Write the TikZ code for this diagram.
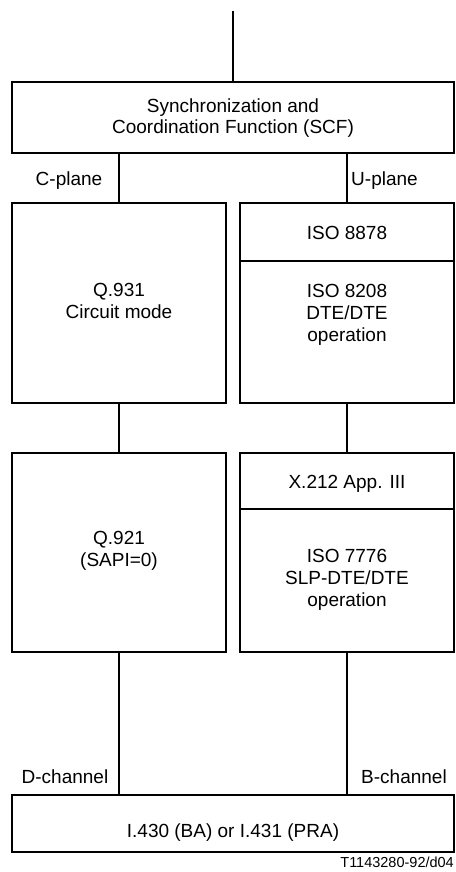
\documentclass[tikz,border=0pt]{standalone}
\usepackage{fontspec}
\setmainfont{Liberation Sans}
\begin{document}
\begin{tikzpicture}[x=1pt,y=-1pt,
  box/.style={draw,line width=1.1pt,inner sep=0pt,minimum width=#1},
  box/.default=214pt,
  txt/.style={align=center,font=\fontsize{19}{21.7}\selectfont,inner sep=0pt},
  lbl/.style={font=\fontsize{19}{21.7}\selectfont,inner sep=0pt,anchor=base},
  link/.style={line width=1.8pt}]
\useasboundingbox (0,0) rectangle (455,872);

% protocol boxes
\node[box=442pt,minimum height=71pt] (scf) at (233,117.5) {};
\node[box,minimum height=200pt] (q931) at (119,303) {};
\node[box,minimum height=58pt] (iso8878) at (347,232) {};
\node[box,minimum height=142pt] (iso8208) at (347,332) {};
\node[box,minimum height=199pt] (q921) at (119,552.5) {};
\node[box,minimum height=56pt] (x212) at (347,481) {};
\node[box,minimum height=143pt] (iso7776) at (347,580.5) {};
\node[box=442pt,minimum height=57pt] (phys) at (233,823.5) {};

% box texts
\node[txt] (t-scf) at (233,118) {Synchronization and\\Coordination Function (SCF)};
\node[txt] (t-q931) at (119,301) {Q.931\\Circuit mode};
\node[lbl] (t-iso8878) at (347,239.3) {ISO 8878};
\node[txt] (t-iso8208) at (347,315) {ISO 8208\\DTE/DTE\\operation};
\node[txt] (t-q921) at (119,551) {Q.921\\(SAPI=0)};
\node[lbl] (t-x212) at (347,488.3) {X.212 App. III};
\node[txt] (t-iso7776) at (347,580) {ISO 7776\\SLP-DTE/DTE\\operation};
\node[lbl] (t-phys) at (233,837) {I.430 (BA) or I.431 (PRA)};

% plane and channel labels
\node[lbl] (cplane) at (69,185) {C-plane};
\node[lbl] (uplane) at (384.5,185) {U-plane};
\node[lbl] (dchan) at (65,783) {D-channel};
\node[lbl] (bchan) at (404,783) {B-channel};
\node[anchor=base east,inner sep=0pt,font=\fontsize{14.5}{17}\selectfont] (ref) at (454,867.5) {T1143280-92/d04};

% connectors
\coordinate (top) at (233,11);
\draw[link] (top) -- (scf.north);
\draw[link] (q931.north) -- (q931.north |- scf.south);
\draw[link] (iso8878.north) -- (iso8878.north |- scf.south);
\draw[link] (q931.south) -- (q921.north);
\draw[link] (iso8208.south) -- (x212.north);
\draw[link] (q921.south) -- (q921.south |- phys.north);
\draw[link] (iso7776.south) -- (iso7776.south |- phys.north);
\end{tikzpicture}
\end{document}
